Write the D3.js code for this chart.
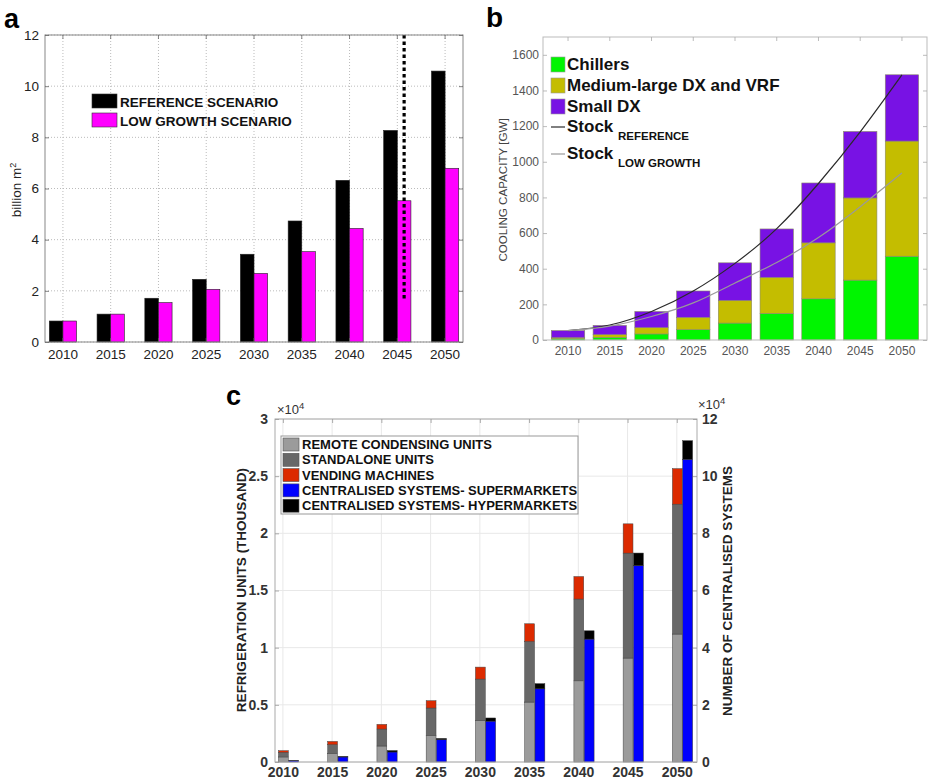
<!DOCTYPE html>
<html>
<head>
<meta charset="utf-8">
<script src="https://cdn.jsdelivr.net/npm/d3@7"></script>
<style>
  body { margin: 0; background: #fff; }
  svg { font-family: 'Liberation Sans', Arial, sans-serif; }
</style>
</head>
<body>
<div class="wrapper"></div>
<script>
// shared categories
var years = [2010, 2015, 2020, 2025, 2030, 2035, 2040, 2045, 2050]

// panel a - floor area (billion m2)
var floorRef = [0.82, 1.09, 1.71, 2.45, 3.43, 4.73, 6.32, 8.27, 10.59]
var floorLow = [0.82, 1.09, 1.54, 2.06, 2.68, 3.53, 4.44, 5.52, 6.79]
var floorTicks = [0, 2, 4, 6, 8, 10, 12]
var markYear = 2045
var markRange = [1.7, 12]

// panel b - cooling capacity (GW)
var chillers = [8, 15, 34, 58, 95, 149, 231, 336, 470]
var mediumDX = [5, 15, 35, 69, 127, 202, 314, 461, 646]
var smallDX = [40, 52, 91, 148, 211, 272, 336, 373, 372]
var stockRef = [53, 84, 160, 275, 430, 625, 878, 1168, 1488]
var stockLow = [53, 78, 132, 208, 320, 435, 575, 748, 937]
var capTicks = [0, 200, 400, 600, 800, 1000, 1200, 1400, 1600]

// panel c - refrigeration
var remoteUnits = [440, 750, 1400, 2330, 3610, 5240, 7100, 9090, 11190]
var standaloneUnits = [400, 760, 1480, 2390, 3640, 5300, 7150, 9180, 11360]
var vendingMachines = [150, 290, 410, 640, 1050, 1550, 1970, 2560, 3110]
var superMarkets = [450, 1750, 3500, 7800, 14300, 25600, 43000, 68700, 105900]
var hyperMarkets = [100, 120, 500, 460, 1100, 1800, 2900, 4400, 6500]
var unitTicks = [0, 5000, 10000, 15000, 20000, 25000, 30000]
var systemTicks = [0, 20000, 40000, 60000, 80000, 100000, 120000]

var svg = d3.select('.wrapper').append('svg')
    .attr('width', 928).attr('height', 782)
svg.append('rect').attr('width', 928).attr('height', 782).attr('fill', '#fff')

function styleAxis(g, color, size, weight) {
    g.select('.domain').remove()
    g.selectAll('.tick line').attr('stroke', '#666').attr('stroke-width', 0.8)
    g.selectAll('.tick text').attr('fill', color).style('font-size', size + 'px')
        .style('font-weight', weight).style('font-family', "'Liberation Sans', Arial, sans-serif")
}

// ---------------- panel a ----------------
var aL = 45, aR = 463, aT = 35, aB = 342
var xa = d3.scaleBand().domain(years).range([aL, aR]).paddingInner(0.43).paddingOuter(0.09)
var xa1 = d3.scaleBand().domain(['ref', 'low']).range([0, xa.bandwidth()])
var ya = d3.scaleLinear().domain([0, 12]).range([aB, aT])

var pa = svg.append('g').attr('class', 'panel-a')

// grid
pa.append('g').selectAll('line').data(years).enter().append('line')
    .attr('x1', d => xa(d) + xa.bandwidth() / 2).attr('x2', d => xa(d) + xa.bandwidth() / 2)
    .attr('y1', aT).attr('y2', aB)
    .attr('stroke', '#bbb').attr('stroke-dasharray', '1,2')
pa.append('g').selectAll('line').data(floorTicks).enter().append('line')
    .attr('x1', aL).attr('x2', aR).attr('y1', d => ya(d)).attr('y2', d => ya(d))
    .attr('stroke', '#bbb').attr('stroke-dasharray', '1,2')

var aData = years.map((y, i) => ({year: y, ref: floorRef[i], low: floorLow[i]}))
var aGroups = pa.selectAll('.yr').data(aData).enter().append('g')
    .attr('transform', d => `translate(${xa(d.year)},0)`)
aGroups.selectAll('rect')
    .data(d => [{k: 'ref', v: d.ref}, {k: 'low', v: d.low}])
    .enter().append('rect')
    .attr('x', d => xa1(d.k)).attr('width', xa1.bandwidth())
    .attr('y', d => ya(d.v)).attr('height', d => ya(0) - ya(d.v))
    .attr('fill', d => d.k == 'ref' ? '#000' : '#ff00ff')
    .attr('stroke', '#222').attr('stroke-width', 0.6)

// projection marker
var markX = xa(markYear) + xa1('low') + xa1.bandwidth() / 2
pa.append('line')
    .attr('x1', markX).attr('x2', markX)
    .attr('y1', ya(markRange[0])).attr('y2', ya(markRange[1]))
    .attr('stroke', '#000').attr('stroke-width', 3.2).attr('stroke-dasharray', '3.5,3')

pa.append('rect').attr('x', aL).attr('y', aT).attr('width', aR - aL).attr('height', aB - aT)
    .attr('fill', 'none').attr('stroke', '#888').attr('stroke-width', 1)

pa.append('g').attr('transform', `translate(0,${aB})`)
    .call(d3.axisBottom(xa).tickSize(-4).tickPadding(7))
    .call(g => styleAxis(g, '#222', 13.5, 'normal'))
pa.append('g').attr('transform', `translate(0,${aT})`)
    .call(d3.axisTop(xa).tickSize(-4).tickFormat(''))
    .call(g => styleAxis(g, '#222', 13.5, 'normal'))
pa.append('g').attr('transform', `translate(${aL},0)`)
    .call(d3.axisLeft(ya).tickValues(floorTicks).tickSize(-4).tickPadding(6))
    .call(g => styleAxis(g, '#222', 13.5, 'normal'))
pa.append('g').attr('transform', `translate(${aR},0)`)
    .call(d3.axisRight(ya).tickValues(floorTicks).tickSize(-4).tickFormat(''))
    .call(g => styleAxis(g, '#222', 13.5, 'normal'))

var aLabel = pa.append('text').attr('transform', 'translate(21,190) rotate(-90)')
    .attr('text-anchor', 'middle').style('font-size', '13.5px').attr('fill', '#222')
aLabel.append('tspan').text('billion m')
aLabel.append('tspan').attr('dy', -5).style('font-size', '9px').text('2')

var aLegend = [{k: 'REFERENCE SCENARIO', c: '#000'}, {k: 'LOW GROWTH SCENARIO', c: '#ff00ff'}]
pa.selectAll('.leg').data(aLegend).enter().append('rect')
    .attr('x', 92).attr('y', (d, i) => 94 + i * 19).attr('width', 25).attr('height', 14)
    .attr('fill', d => d.c).attr('stroke', '#333').attr('stroke-width', 0.6)
pa.selectAll('.legt').data(aLegend).enter().append('text')
    .attr('x', 120).attr('y', (d, i) => 107 + i * 19)
    .style('font-size', '13.5px').style('font-weight', 'bold').attr('fill', '#111')
    .text(d => d.k)

svg.append('text').attr('x', 4).attr('y', 28).style('font-size', '27px')
    .style('font-weight', 'bold').text('a')

// ---------------- panel b ----------------
var bL = 543, bR = 927, bT = 37, bB = 340
var xb = d3.scaleBand().domain(years).range([bL, bR]).paddingInner(0.2).paddingOuter(0.2)
var yb = d3.scaleLinear().domain([0, 1700]).range([bB, bT])
var pb = svg.append('g').attr('class', 'panel-b')

var bKeys = ['chillers', 'medium', 'small']
var bColors = {chillers: '#00f500', medium: '#c4bd00', small: '#7812e4'}
var bData = years.map((y, i) => ({year: y, chillers: chillers[i], medium: mediumDX[i], small: smallDX[i]}))
var bStack = d3.stack().keys(bKeys)(bData)

pb.selectAll('.layer').data(bStack).enter().append('g')
    .attr('fill', d => bColors[d.key])
    .selectAll('rect').data(d => d).enter().append('rect')
    .attr('x', d => xb(d.data.year)).attr('width', xb.bandwidth())
    .attr('y', d => yb(d[1])).attr('height', d => yb(d[0]) - yb(d[1]))
    .attr('stroke', '#8a8a6a').attr('stroke-width', 0.6)

var stockLine = d3.line()
    .x((d, i) => xb(years[i]) + xb.bandwidth() / 2)
    .y(d => yb(d))
    .curve(d3.curveNatural)
pb.append('path').attr('d', stockLine(stockRef)).attr('fill', 'none')
    .attr('stroke', '#2a2a2a').attr('stroke-width', 1.2)
pb.append('path').attr('d', stockLine(stockLow)).attr('fill', 'none')
    .attr('stroke', '#9a9a9a').attr('stroke-width', 1.2)

pb.append('rect').attr('x', bL).attr('y', bT).attr('width', bR - bL).attr('height', bB - bT)
    .attr('fill', 'none').attr('stroke', '#bbb').attr('stroke-width', 1)

pb.append('g').attr('transform', `translate(0,${bB})`)
    .call(d3.axisBottom(xb).tickSize(0).tickPadding(6))
    .call(g => styleAxis(g, '#555', 12, 'normal'))
pb.append('g').attr('transform', `translate(0,${bT})`)
    .call(d3.axisTop(xb).tickSize(-4).tickFormat(''))
    .call(g => styleAxis(g, '#555', 12, 'normal'))
pb.append('g').attr('transform', `translate(${bL},0)`)
    .call(d3.axisLeft(yb).tickValues(capTicks).tickFormat(d3.format('d')).tickSize(-4).tickPadding(4))
    .call(g => styleAxis(g, '#555', 12, 'normal'))
pb.append('g').attr('transform', `translate(${bR},0)`)
    .call(d3.axisRight(yb).tickValues(capTicks).tickSize(-4).tickFormat(''))
    .call(g => styleAxis(g, '#555', 12, 'normal'))
pb.selectAll('.tick line').attr('stroke', '#aaa')

pb.append('text').attr('transform', 'translate(507,190) rotate(-90)')
    .attr('text-anchor', 'middle').style('font-size', '11.6px').attr('fill', '#444')
    .text('COOLING CAPACITY [GW]')

var bLegend = [{k: 'chillers', t: 'Chillers'}, {k: 'medium', t: 'Medium-large DX and VRF'}, {k: 'small', t: 'Small DX'}]
pb.selectAll('.legb').data(bLegend).enter().append('rect')
    .attr('x', 551).attr('y', (d, i) => 57 + i * 21).attr('width', 14).attr('height', 15)
    .attr('fill', d => bColors[d.k]).attr('stroke', '#999').attr('stroke-width', 0.6)
pb.selectAll('.legbt').data(bLegend).enter().append('text')
    .attr('x', 567).attr('y', (d, i) => 70 + i * 21)
    .style('font-size', '17px').style('font-weight', 'bold').attr('fill', '#111')
    .text(d => d.t)

var stockLegend = [{sub: 'REFERENCE', c: '#2a2a2a'}, {sub: 'LOW GROWTH', c: '#9a9a9a'}]
stockLegend.forEach((s, i) => {
    var yy = 127 + i * 27
    pb.append('line').attr('x1', 551).attr('x2', 565).attr('y1', yy).attr('y2', yy)
        .attr('stroke', s.c).attr('stroke-width', 1.2)
    pb.append('text').attr('x', 567).attr('y', yy + 5)
        .style('font-size', '17px').style('font-weight', 'bold').attr('fill', '#111').text('Stock')
    pb.append('text').attr('x', 618).attr('y', yy + 13)
        .style('font-size', '11.5px').style('font-weight', 'bold').attr('fill', '#111').text(s.sub)
})

svg.append('text').attr('x', 486).attr('y', 27).style('font-size', '28px')
    .style('font-weight', 'bold').text('b')

// ---------------- panel c ----------------
var cL = 275, cR = 697, cT = 419, cB = 762
var xc = d3.scaleLinear().domain([2009.2, 2052.05]).range([cL, cR])
var ycL = d3.scaleLinear().domain([0, 30000]).range([cB, cT])
var ycR = d3.scaleLinear().domain([0, 120000]).range([cB, cT])
var pc = svg.append('g').attr('class', 'panel-c')

// grid
pc.append('g').selectAll('line').data(years).enter().append('line')
    .attr('x1', d => xc(d)).attr('x2', d => xc(d)).attr('y1', cT).attr('y2', cB)
    .attr('stroke', '#e8e8e8')
pc.append('g').selectAll('line').data(unitTicks).enter().append('line')
    .attr('x1', cL).attr('x2', cR).attr('y1', d => ycL(d)).attr('y2', d => ycL(d))
    .attr('stroke', '#e8e8e8')

var cColors = {remote: '#9b9b9b', standalone: '#686868', vending: '#dc2a00', super: '#0000ff', hyper: '#000'}
var unitData = years.map((y, i) => ({year: y, remote: remoteUnits[i], standalone: standaloneUnits[i], vending: vendingMachines[i]}))
var sysData = years.map((y, i) => ({year: y, super: superMarkets[i], hyper: hyperMarkets[i]}))

pc.selectAll('.ulayer').data(d3.stack().keys(['remote', 'standalone', 'vending'])(unitData))
    .enter().append('g').attr('fill', d => cColors[d.key])
    .selectAll('rect').data(d => d).enter().append('rect')
    .attr('x', d => xc(d.data.year - 0.45)).attr('width', xc(2011) - xc(2010))
    .attr('y', d => ycL(d[1])).attr('height', d => ycL(d[0]) - ycL(d[1]))
    .attr('stroke', '#444').attr('stroke-width', 0.5)

pc.selectAll('.slayer').data(d3.stack().keys(['super', 'hyper'])(sysData))
    .enter().append('g').attr('fill', d => cColors[d.key])
    .selectAll('rect').data(d => d).enter().append('rect')
    .attr('x', d => xc(d.data.year + 0.6)).attr('width', xc(2011) - xc(2010))
    .attr('y', d => ycR(d[1])).attr('height', d => ycR(d[0]) - ycR(d[1]))
    .attr('stroke', '#333').attr('stroke-width', 0.5)

pc.append('rect').attr('x', cL).attr('y', cT).attr('width', cR - cL).attr('height', cB - cT)
    .attr('fill', 'none').attr('stroke', '#aaa').attr('stroke-width', 1)

pc.append('g').attr('transform', `translate(0,${cB})`)
    .call(d3.axisBottom(xc).tickValues(years).tickFormat(d3.format('d')).tickSize(-4).tickPadding(5))
    .call(g => styleAxis(g, '#333', 14, 'bold'))
pc.append('g').attr('transform', `translate(0,${cT})`)
    .call(d3.axisTop(xc).tickValues(years).tickSize(-4).tickFormat(''))
    .call(g => styleAxis(g, '#333', 14, 'bold'))
pc.append('g').attr('transform', `translate(${cL},0)`)
    .call(d3.axisLeft(ycL).tickValues(unitTicks).tickFormat(d => d / 1e4).tickSize(-4).tickPadding(7))
    .call(g => styleAxis(g, '#333', 14, 'bold'))
pc.append('g').attr('transform', `translate(${cR},0)`)
    .call(d3.axisRight(ycR).tickValues(systemTicks).tickFormat(d => d / 1e4).tickSize(-4).tickPadding(5))
    .call(g => styleAxis(g, '#333', 14, 'bold'))
pc.selectAll('.tick line').attr('stroke', '#999')

function expLabel(x, y) {
    var t = pc.append('text').attr('x', x).attr('y', y).style('font-size', '13px').attr('fill', '#333')
    t.append('tspan').text('\u00d710')
    t.append('tspan').attr('dy', -5).style('font-size', '9.5px').text('4')
}
expLabel(277, 414)
expLabel(698, 409)

pc.append('text').attr('transform', 'translate(246,590) rotate(-90)')
    .attr('text-anchor', 'middle').style('font-size', '13.5px').style('font-weight', 'bold')
    .attr('fill', '#222').text('REFRIGERATION UNITS (THOUSAND)')
pc.append('text').attr('transform', 'translate(732,591) rotate(-90)')
    .attr('text-anchor', 'middle').style('font-size', '13.5px').style('font-weight', 'bold')
    .attr('fill', '#222').text('NUMBER OF CENTRALISED SYSTEMS')

var cLegend = [
    {k: 'remote', t: 'REMOTE CONDENSING UNITS'},
    {k: 'standalone', t: 'STANDALONE UNITS'},
    {k: 'vending', t: 'VENDING MACHINES'},
    {k: 'super', t: 'CENTRALISED SYSTEMS- SUPERMARKETS'},
    {k: 'hyper', t: 'CENTRALISED SYSTEMS- HYPERMARKETS'}
]
pc.append('rect').attr('x', 281).attr('y', 436).attr('width', 297).attr('height', 78)
    .attr('fill', '#fff').attr('stroke', '#999').attr('stroke-width', 1)
pc.selectAll('.legc').data(cLegend).enter().append('rect')
    .attr('x', 283).attr('y', (d, i) => 438 + i * 15.3).attr('width', 16).attr('height', 13)
    .attr('fill', d => cColors[d.k]).attr('stroke', '#555').attr('stroke-width', 0.6)
pc.selectAll('.legct').data(cLegend).enter().append('text')
    .attr('x', 302).attr('y', (d, i) => 449 + i * 15.3)
    .style('font-size', '13px').style('font-weight', 'bold').attr('fill', '#111')
    .text(d => d.t)

svg.append('text').attr('x', 226).attr('y', 405).style('font-size', '27px')
    .style('font-weight', 'bold').text('c')
</script>
</body>
</html>
